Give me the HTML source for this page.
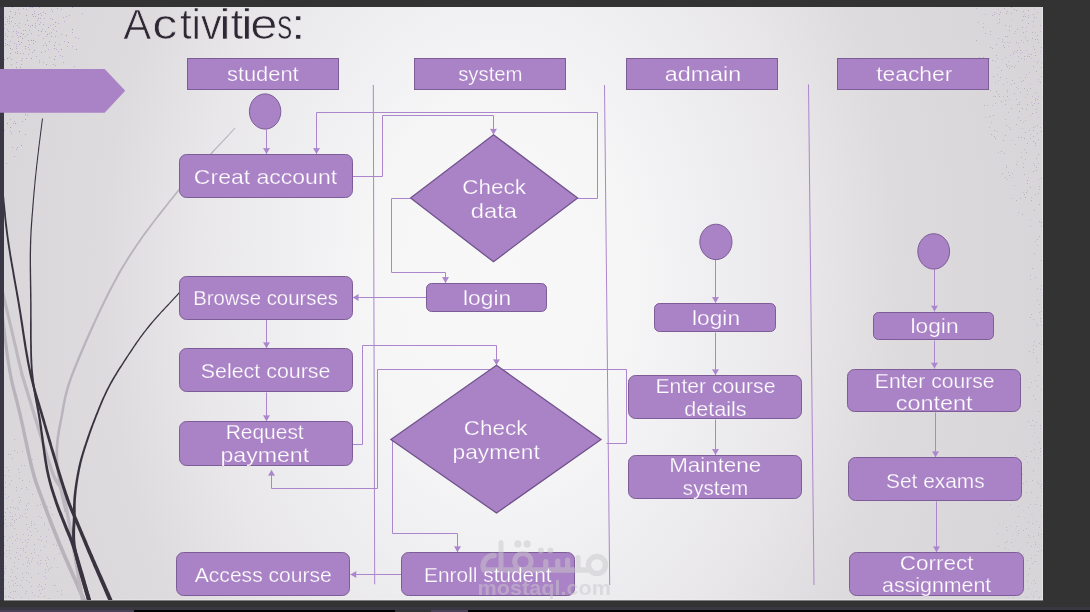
<!DOCTYPE html>
<html><head><meta charset="utf-8"><style>
html,body{margin:0;padding:0;background:#333333;}
body{width:1090px;height:612px;overflow:hidden;position:relative;font-family:"Liberation Sans",sans-serif;}
svg{position:absolute;left:0;top:0;}
</style></head><body>
<svg style="will-change:transform" width="1090" height="612" viewBox="0 0 1090 612" font-family="Liberation Sans, sans-serif">
<defs>
<radialGradient id="bg" cx="500" cy="280" r="560" gradientUnits="userSpaceOnUse" gradientTransform="translate(500 280) scale(1 1.4) translate(-500 -280)">
<stop offset="0" stop-color="#f8f8f9"/>
<stop offset="0.23" stop-color="#f6f6f7"/>
<stop offset="0.45" stop-color="#ecebee"/>
<stop offset="0.54" stop-color="#e9e7ea"/>
<stop offset="0.71" stop-color="#dedbdf"/>
<stop offset="0.89" stop-color="#dad7db"/>
<stop offset="1" stop-color="#d8d5d9"/>
</radialGradient>
<clipPath id="slide"><rect x="4" y="7" width="1039" height="593"/></clipPath>
</defs>
<rect x="0" y="0" width="1090" height="612" fill="#333333"/>
<rect x="0" y="7" width="4" height="593" fill="#3b3845"/>
<rect x="4" y="7" width="1039" height="593" fill="url(#bg)"/>
<path fill="#c0a9d6" d="M25 114h1v1h-1zM27 115h1v1h-1zM10 119h1v1h-1zM14 121h1v1h-1zM22 121h1v1h-1zM13 123h1v1h-1zM4 130h1v1h-1zM10 131h1v1h-1zM11 133h1v1h-1zM25 134h1v1h-1zM12 147h1v1h-1zM16 149h1v1h-1zM14 156h1v1h-1zM6 163h1v1h-1zM12 7h1v1h-1zM30 7h1v1h-1zM32 7h1v1h-1zM39 7h1v1h-1zM72 7h1v1h-1zM23 8h1v1h-1zM57 8h1v1h-1zM18 9h1v1h-1zM26 9h1v1h-1zM51 9h1v1h-1zM61 9h1v1h-1zM34 11h1v1h-1zM52 11h1v1h-1zM15 12h1v1h-1zM43 12h1v1h-1zM19 13h1v1h-1zM34 13h1v1h-1zM40 13h1v1h-1zM45 13h1v1h-1zM82 13h1v1h-1zM15 14h1v1h-1zM41 15h1v1h-1zM69 15h1v1h-1zM33 16h1v1h-1zM35 16h1v1h-1zM66 16h1v1h-1zM5 17h1v1h-1zM63 17h1v1h-1zM9 18h1v1h-1zM40 18h1v1h-1zM44 18h1v1h-1zM50 18h1v1h-1zM7 19h1v1h-1zM52 19h1v1h-1zM37 20h1v1h-1zM7 21h1v1h-1zM9 21h1v1h-1zM11 21h1v1h-1zM64 21h1v1h-1zM40 22h1v1h-1zM9 23h1v1h-1zM15 23h1v1h-1zM19 23h1v1h-1zM35 23h1v1h-1zM58 23h1v1h-1zM5 24h1v1h-1zM25 24h1v1h-1zM39 24h1v1h-1zM43 24h1v1h-1zM53 24h1v1h-1zM17 25h1v1h-1zM28 25h1v1h-1zM35 25h1v1h-1zM50 25h1v1h-1zM13 26h1v1h-1zM30 26h1v1h-1zM55 26h1v1h-1zM19 27h1v1h-1zM35 27h1v1h-1zM4 28h1v1h-1zM7 29h1v1h-1zM42 29h1v1h-1zM53 29h1v1h-1zM23 30h1v1h-1zM25 30h1v1h-1zM29 30h1v1h-1zM8 31h1v1h-1zM13 31h1v1h-1zM16 31h1v1h-1zM45 31h1v1h-1zM56 31h1v1h-1zM18 32h1v1h-1zM51 32h1v1h-1zM72 32h1v1h-1zM5 33h1v1h-1zM16 33h1v1h-1zM31 33h1v1h-1zM49 33h1v1h-1zM27 34h1v1h-1zM61 34h1v1h-1zM5 35h1v1h-1zM17 35h1v1h-1zM38 35h1v1h-1zM7 36h1v1h-1zM12 36h1v1h-1zM25 36h1v1h-1zM46 36h1v1h-1zM51 36h1v1h-1zM55 36h1v1h-1zM18 37h1v1h-1zM75 37h1v1h-1zM43 38h1v1h-1zM78 38h1v1h-1zM5 39h1v1h-1zM10 41h1v1h-1zM35 41h1v1h-1zM64 41h1v1h-1zM55 42h1v1h-1zM5 43h1v1h-1zM14 43h1v1h-1zM33 43h1v1h-1zM45 43h1v1h-1zM16 44h1v1h-1zM19 44h1v1h-1zM29 44h1v1h-1zM59 44h1v1h-1zM5 45h1v1h-1zM9 45h1v1h-1zM43 45h1v1h-1zM16 46h1v1h-1zM67 46h1v1h-1zM72 46h1v1h-1zM28 47h1v1h-1zM16 48h1v1h-1zM25 48h1v1h-1zM12 49h1v1h-1zM29 49h1v1h-1zM48 49h1v1h-1zM56 49h1v1h-1zM17 51h1v1h-1zM45 51h1v1h-1zM58 51h1v1h-1zM15 52h1v1h-1zM32 52h1v1h-1zM20 53h1v1h-1zM23 53h1v1h-1zM28 54h1v1h-1zM60 55h1v1h-1zM36 56h1v1h-1zM55 56h1v1h-1zM62 56h1v1h-1zM9 57h1v1h-1zM49 57h1v1h-1zM22 58h1v1h-1zM26 58h1v1h-1zM11 59h1v1h-1zM21 60h1v1h-1zM39 60h1v1h-1zM16 62h1v1h-1zM39 62h1v1h-1zM43 62h1v1h-1zM63 62h1v1h-1zM11 64h1v1h-1zM21 64h1v1h-1zM53 64h1v1h-1zM55 65h1v1h-1zM74 66h1v1h-1z"/>
<path fill="#a8a4ac" d="M25 119h1v1h-1zM7 123h1v1h-1zM15 123h1v1h-1zM10 127h1v1h-1zM19 131h1v1h-1zM21 145h1v1h-1zM17 147h1v1h-1zM10 11h1v1h-1zM32 14h1v1h-1zM38 14h1v1h-1zM26 15h1v1h-1zM9 16h1v1h-1zM12 17h1v1h-1zM38 18h1v1h-1zM27 20h1v1h-1zM55 22h1v1h-1zM32 25h1v1h-1zM48 27h1v1h-1zM72 29h1v1h-1zM38 30h1v1h-1zM41 31h1v1h-1zM21 33h1v1h-1zM23 34h1v1h-1zM47 34h1v1h-1zM66 35h1v1h-1zM20 36h1v1h-1zM22 38h1v1h-1zM28 40h1v1h-1zM31 40h1v1h-1zM33 40h1v1h-1zM18 41h1v1h-1zM49 41h1v1h-1zM21 42h1v1h-1zM68 42h1v1h-1zM7 44h1v1h-1zM46 45h1v1h-1zM54 45h1v1h-1zM25 46h1v1h-1zM10 48h1v1h-1zM54 48h1v1h-1zM61 49h1v1h-1zM76 49h1v1h-1zM34 50h1v1h-1zM41 52h1v1h-1zM10 53h1v1h-1zM17 53h1v1h-1zM7 58h1v1h-1zM31 58h1v1h-1zM4 59h1v1h-1zM54 59h1v1h-1zM46 64h1v1h-1zM16 67h1v1h-1zM20 67h1v1h-1z"/>
<path fill="#b6b2ba" d="M1011 7h1v1h-1zM1004 8h1v1h-1zM1014 9h1v1h-1zM1016 10h1v1h-1zM1028 10h1v1h-1zM1007 11h1v1h-1zM1023 11h1v1h-1zM1000 12h1v1h-1zM1006 13h1v1h-1zM1011 13h1v1h-1zM999 14h1v1h-1zM1033 14h1v1h-1zM992 15h1v1h-1zM1023 16h1v1h-1zM1025 16h1v1h-1zM1028 17h1v1h-1zM1034 17h1v1h-1zM999 19h1v1h-1zM1022 20h1v1h-1zM1033 21h1v1h-1zM978 22h1v1h-1zM999 22h1v1h-1zM1028 23h1v1h-1zM1005 25h1v1h-1zM1009 26h1v1h-1zM983 27h1v1h-1zM1022 27h1v1h-1zM1017 29h1v1h-1zM1009 30h1v1h-1zM990 31h1v1h-1zM1023 32h1v1h-1zM1032 32h1v1h-1zM985 33h1v1h-1zM1014 33h1v1h-1zM1037 35h1v1h-1zM1005 36h1v1h-1zM1007 36h1v1h-1zM998 38h1v1h-1zM1032 38h1v1h-1zM1035 39h1v1h-1zM1037 39h1v1h-1zM976 40h1v1h-1zM1027 40h1v1h-1zM1002 41h1v1h-1zM1016 42h1v1h-1zM1038 42h1v1h-1zM996 44h1v1h-1zM1003 45h1v1h-1zM1033 46h1v1h-1zM990 47h1v1h-1zM1004 47h1v1h-1zM1041 47h1v1h-1zM992 48h1v1h-1zM1034 49h1v1h-1zM1017 50h1v1h-1zM1020 50h1v1h-1zM1014 51h1v1h-1zM1013 53h1v1h-1zM1031 54h1v1h-1zM996 55h1v1h-1zM1035 55h1v1h-1zM1018 56h1v1h-1zM1024 56h1v1h-1zM1027 56h1v1h-1zM1029 56h1v1h-1zM979 57h1v1h-1zM983 57h1v1h-1zM989 58h1v1h-1zM992 60h1v1h-1zM1018 61h1v1h-1zM1037 62h1v1h-1zM1006 64h1v1h-1zM1007 66h1v1h-1zM1011 66h1v1h-1zM1033 66h1v1h-1zM1014 67h1v1h-1zM1041 67h1v1h-1zM1001 70h1v1h-1zM1036 71h1v1h-1zM1042 73h1v1h-1zM993 76h1v1h-1zM1041 76h1v1h-1zM1000 77h1v1h-1zM1025 77h1v1h-1zM1012 80h1v1h-1zM1023 80h1v1h-1zM1021 81h1v1h-1zM1040 82h1v1h-1zM1014 83h1v1h-1zM1024 88h1v1h-1zM1030 88h1v1h-1zM980 89h1v1h-1zM990 90h1v1h-1zM1007 90h1v1h-1zM1027 90h1v1h-1zM996 91h1v1h-1zM1020 92h1v1h-1zM1014 93h1v1h-1zM998 94h1v1h-1zM995 96h1v1h-1zM999 96h1v1h-1zM1007 96h1v1h-1zM1042 96h1v1h-1zM1035 98h1v1h-1zM1037 99h1v1h-1zM1005 100h1v1h-1zM1035 100h1v1h-1zM1001 101h1v1h-1zM1019 102h1v1h-1zM1038 103h1v1h-1zM1005 104h1v1h-1zM1017 104h1v1h-1zM1019 104h1v1h-1zM1027 104h1v1h-1zM984 105h1v1h-1zM1032 105h1v1h-1zM1011 108h1v1h-1zM1022 108h1v1h-1zM1026 109h1v1h-1zM1036 109h1v1h-1zM1019 111h1v1h-1zM1032 113h1v1h-1zM993 115h1v1h-1zM989 116h1v1h-1zM1018 117h1v1h-1zM1020 120h1v1h-1zM1016 124h1v1h-1zM1006 125h1v1h-1zM1033 127h1v1h-1zM1010 129h1v1h-1zM994 130h1v1h-1zM1029 130h1v1h-1zM1033 130h1v1h-1zM1041 131h1v1h-1zM1025 132h1v1h-1zM1037 133h1v1h-1zM991 134h1v1h-1zM1005 135h1v1h-1zM994 136h1v1h-1zM1033 136h1v1h-1zM1018 137h1v1h-1zM1021 137h1v1h-1zM995 138h1v1h-1zM1024 138h1v1h-1zM1038 139h1v1h-1zM1003 140h1v1h-1zM1033 141h1v1h-1zM1027 143h1v1h-1zM1035 143h1v1h-1zM1035 145h1v1h-1zM1001 151h1v1h-1zM1026 152h1v1h-1zM1004 153h1v1h-1zM1038 154h1v1h-1zM1036 158h1v1h-1zM1016 164h1v1h-1zM1034 165h1v1h-1zM1006 167h1v1h-1zM1023 167h1v1h-1zM1036 167h1v1h-1zM1036 170h1v1h-1zM1033 171h1v1h-1zM1008 172h1v1h-1zM1002 173h1v1h-1zM1024 174h1v1h-1zM1009 175h1v1h-1zM1005 177h1v1h-1zM1027 180h1v1h-1zM1027 183h1v1h-1zM1030 187h1v1h-1zM1026 192h1v1h-1zM1024 194h1v1h-1zM1035 194h1v1h-1zM1025 197h1v1h-1zM1020 198h1v1h-1zM1016 200h1v1h-1zM1031 200h1v1h-1zM1039 204h1v1h-1zM1034 210h1v1h-1zM1022 214h1v1h-1zM1039 221h1v1h-1zM1041 222h1v1h-1z"/>
<path fill="#c8b6d8" d="M976 8h1v1h-1zM1042 8h1v1h-1zM998 9h1v1h-1zM1034 9h1v1h-1zM994 12h1v1h-1zM1037 12h1v1h-1zM996 13h1v1h-1zM985 14h1v1h-1zM994 14h1v1h-1zM1024 14h1v1h-1zM1028 15h1v1h-1zM1036 17h1v1h-1zM1011 19h1v1h-1zM983 23h1v1h-1zM997 23h1v1h-1zM1011 25h1v1h-1zM1040 25h1v1h-1zM1033 26h1v1h-1zM1026 27h1v1h-1zM1015 31h1v1h-1zM1026 31h1v1h-1zM1040 31h1v1h-1zM1035 32h1v1h-1zM990 34h1v1h-1zM1025 36h1v1h-1zM1042 36h1v1h-1zM1025 38h1v1h-1zM1002 39h1v1h-1zM1021 40h1v1h-1zM1004 42h1v1h-1zM1007 42h1v1h-1zM1009 42h1v1h-1zM1023 42h1v1h-1zM1018 43h1v1h-1zM1008 46h1v1h-1zM1019 47h1v1h-1zM1026 50h1v1h-1zM1040 51h1v1h-1zM1016 52h1v1h-1zM1022 52h1v1h-1zM1035 52h1v1h-1zM1020 53h1v1h-1zM1028 54h1v1h-1zM1042 54h1v1h-1zM1010 55h1v1h-1zM1005 57h1v1h-1zM997 58h1v1h-1zM1021 58h1v1h-1zM1031 58h1v1h-1zM1002 59h1v1h-1zM1024 59h1v1h-1zM1038 60h1v1h-1zM995 61h1v1h-1zM1008 61h1v1h-1zM1034 61h1v1h-1zM1042 61h1v1h-1zM1041 63h1v1h-1zM1009 65h1v1h-1zM1015 65h1v1h-1zM998 67h1v1h-1zM1009 68h1v1h-1zM1029 72h1v1h-1zM997 74h1v1h-1zM1026 74h1v1h-1zM1019 77h1v1h-1zM1006 78h1v1h-1zM1038 79h1v1h-1zM998 80h1v1h-1zM1038 81h1v1h-1zM995 82h1v1h-1zM1007 82h1v1h-1zM987 83h1v1h-1zM1003 84h1v1h-1zM1011 84h1v1h-1zM1030 84h1v1h-1zM1016 87h1v1h-1zM1018 88h1v1h-1zM988 89h1v1h-1zM1007 92h1v1h-1zM1035 92h1v1h-1zM1037 93h1v1h-1zM1027 94h1v1h-1zM993 96h1v1h-1zM1003 96h1v1h-1zM1032 96h1v1h-1zM1038 96h1v1h-1zM1025 97h1v1h-1zM1009 99h1v1h-1zM1016 99h1v1h-1zM1031 102h1v1h-1zM995 103h1v1h-1zM1034 103h1v1h-1zM987 105h1v1h-1zM992 105h1v1h-1zM1008 112h1v1h-1zM1036 112h1v1h-1zM1030 115h1v1h-1zM985 117h1v1h-1zM1038 117h1v1h-1zM1005 119h1v1h-1zM1025 120h1v1h-1zM991 122h1v1h-1zM1023 122h1v1h-1zM1037 125h1v1h-1zM1035 126h1v1h-1zM989 127h1v1h-1zM1009 127h1v1h-1zM1040 127h1v1h-1zM1022 128h1v1h-1zM997 131h1v1h-1zM1030 134h1v1h-1zM1030 138h1v1h-1zM1012 140h1v1h-1zM1015 144h1v1h-1zM1024 149h1v1h-1zM998 152h1v1h-1zM1021 152h1v1h-1zM1021 157h1v1h-1zM1025 159h1v1h-1zM1017 161h1v1h-1zM1023 163h1v1h-1zM1033 163h1v1h-1zM1038 163h1v1h-1zM1006 165h1v1h-1zM1012 173h1v1h-1zM1012 177h1v1h-1zM1028 177h1v1h-1zM1041 178h1v1h-1zM1007 179h1v1h-1zM1038 179h1v1h-1zM1014 185h1v1h-1zM1039 186h1v1h-1zM1027 190h1v1h-1zM1023 192h1v1h-1zM1031 197h1v1h-1zM1012 198h1v1h-1zM1018 212h1v1h-1zM1030 219h1v1h-1zM1030 226h1v1h-1zM1041 226h1v1h-1zM1035 241h1v1h-1zM1037 245h1v1h-1zM1030 279h1v1h-1zM1037 288h1v1h-1zM1040 289h1v1h-1zM1042 295h1v1h-1zM1037 300h1v1h-1zM1039 304h1v1h-1zM1039 312h1v1h-1zM1033 319h1v1h-1zM1040 321h1v1h-1zM1036 323h1v1h-1zM1041 325h1v1h-1zM1034 341h1v1h-1zM1041 341h1v1h-1zM1041 344h1v1h-1zM1033 345h1v1h-1zM1033 352h1v1h-1zM1042 378h1v1h-1zM1041 389h1v1h-1zM1042 400h1v1h-1zM1036 422h1v1h-1zM1040 428h1v1h-1z"/>
<path fill="#bbb7bf" d="M1039 189h1v1h-1zM1038 193h1v1h-1zM1039 236h1v1h-1zM1037 239h1v1h-1zM1034 253h1v1h-1zM1041 260h1v1h-1zM1032 268h1v1h-1zM1030 275h1v1h-1zM1035 277h1v1h-1zM1041 285h1v1h-1zM1041 311h1v1h-1zM1031 314h1v1h-1zM1030 317h1v1h-1zM1040 318h1v1h-1zM1037 325h1v1h-1zM1039 343h1v1h-1zM1036 346h1v1h-1zM1033 349h1v1h-1zM1029 351h1v1h-1zM1036 358h1v1h-1zM1037 362h1v1h-1zM1038 375h1v1h-1zM1035 380h1v1h-1zM1031 382h1v1h-1zM1037 386h1v1h-1zM1029 387h1v1h-1zM1033 395h1v1h-1zM1035 399h1v1h-1zM1038 411h1v1h-1zM1032 420h1v1h-1zM1040 425h1v1h-1zM1034 449h1v1h-1zM1034 457h1v1h-1zM1041 484h1v1h-1z"/>
<path fill="#bdb9c1" d="M1042 414h1v1h-1zM1028 421h1v1h-1zM1031 425h1v1h-1zM1034 425h1v1h-1zM1042 432h1v1h-1zM1039 442h1v1h-1zM1040 448h1v1h-1zM1031 451h1v1h-1zM1040 451h1v1h-1zM1015 455h1v1h-1zM1026 456h1v1h-1zM1038 458h1v1h-1zM1027 462h1v1h-1zM1012 471h1v1h-1zM1033 471h1v1h-1zM1022 474h1v1h-1zM1012 480h1v1h-1zM1032 480h1v1h-1zM1026 481h1v1h-1zM1037 481h1v1h-1zM1023 483h1v1h-1zM1038 483h1v1h-1zM1040 486h1v1h-1zM1019 487h1v1h-1zM1008 490h1v1h-1zM1026 492h1v1h-1zM1031 492h1v1h-1zM1011 493h1v1h-1zM1018 496h1v1h-1zM1037 497h1v1h-1zM1010 504h1v1h-1zM1030 504h1v1h-1zM1036 504h1v1h-1zM1040 505h1v1h-1zM1018 506h1v1h-1zM1028 507h1v1h-1zM1018 516h1v1h-1zM1042 516h1v1h-1zM1036 521h1v1h-1zM1028 522h1v1h-1zM1032 523h1v1h-1zM1016 526h1v1h-1zM1006 527h1v1h-1zM1039 527h1v1h-1zM1026 528h1v1h-1zM1007 530h1v1h-1zM1018 530h1v1h-1zM1023 530h1v1h-1zM997 533h1v1h-1zM1018 533h1v1h-1zM1038 533h1v1h-1zM1041 534h1v1h-1zM1028 535h1v1h-1zM1038 535h1v1h-1zM1033 536h1v1h-1zM1029 537h1v1h-1zM1007 541h1v1h-1zM1005 542h1v1h-1zM1011 542h1v1h-1zM1027 542h1v1h-1zM1035 542h1v1h-1zM1035 544h1v1h-1zM998 546h1v1h-1zM1031 546h1v1h-1zM1005 548h1v1h-1zM1018 550h1v1h-1zM1041 550h1v1h-1zM1038 551h1v1h-1zM1018 552h1v1h-1zM1023 554h1v1h-1zM1035 555h1v1h-1zM1031 558h1v1h-1zM1008 559h1v1h-1zM1012 559h1v1h-1zM1027 560h1v1h-1zM1020 561h1v1h-1zM1034 561h1v1h-1zM1032 563h1v1h-1zM1018 565h1v1h-1zM1021 565h1v1h-1zM1007 566h1v1h-1zM1021 568h1v1h-1zM1029 568h1v1h-1zM1014 570h1v1h-1zM1028 574h1v1h-1zM1006 577h1v1h-1zM1015 579h1v1h-1zM1034 580h1v1h-1zM1027 581h1v1h-1zM1014 583h1v1h-1zM1035 583h1v1h-1zM1000 586h1v1h-1zM1011 587h1v1h-1zM1007 588h1v1h-1zM1028 588h1v1h-1zM1036 591h1v1h-1zM1003 592h1v1h-1zM1000 594h1v1h-1zM1033 596h1v1h-1zM1027 597h1v1h-1zM1039 597h1v1h-1zM1033 599h1v1h-1zM1038 599h1v1h-1z"/>
<path fill="#d0c4da" d="M1034 429h1v1h-1zM1034 432h1v1h-1zM1032 435h1v1h-1zM1037 437h1v1h-1zM1034 444h1v1h-1zM1023 451h1v1h-1zM1040 455h1v1h-1zM1024 459h1v1h-1zM1041 462h1v1h-1zM1020 463h1v1h-1zM1038 463h1v1h-1zM1033 469h1v1h-1zM1033 474h1v1h-1zM1018 481h1v1h-1zM1040 481h1v1h-1zM1041 488h1v1h-1zM1041 491h1v1h-1zM1017 500h1v1h-1zM1034 504h1v1h-1zM1012 509h1v1h-1zM1023 510h1v1h-1zM1039 510h1v1h-1zM1031 514h1v1h-1zM1041 514h1v1h-1zM1032 517h1v1h-1zM1024 518h1v1h-1zM1015 522h1v1h-1zM1042 522h1v1h-1zM999 523h1v1h-1zM1003 523h1v1h-1zM1040 523h1v1h-1zM1034 524h1v1h-1zM1039 525h1v1h-1zM1010 526h1v1h-1zM1015 529h1v1h-1zM1016 532h1v1h-1zM1033 532h1v1h-1zM1013 533h1v1h-1zM1002 534h1v1h-1zM1017 535h1v1h-1zM1041 536h1v1h-1zM1012 539h1v1h-1zM1015 540h1v1h-1zM1021 541h1v1h-1zM1039 544h1v1h-1zM1041 545h1v1h-1zM1013 546h1v1h-1zM1037 546h1v1h-1zM1034 547h1v1h-1zM1039 547h1v1h-1zM1020 548h1v1h-1zM1008 549h1v1h-1zM1036 551h1v1h-1zM1012 552h1v1h-1zM1031 554h1v1h-1zM1009 556h1v1h-1zM1042 560h1v1h-1zM1036 561h1v1h-1zM1015 562h1v1h-1zM1042 562h1v1h-1zM1017 563h1v1h-1zM1038 564h1v1h-1zM1008 568h1v1h-1zM996 571h1v1h-1zM996 576h1v1h-1zM1023 578h1v1h-1zM1010 581h1v1h-1zM1008 583h1v1h-1zM1031 583h1v1h-1zM1005 585h1v1h-1zM1009 586h1v1h-1zM1019 588h1v1h-1zM1024 589h1v1h-1zM1041 589h1v1h-1zM1031 593h1v1h-1zM1034 593h1v1h-1zM1020 594h1v1h-1zM1025 596h1v1h-1zM1041 596h1v1h-1zM1008 597h1v1h-1zM1013 597h1v1h-1zM1030 599h1v1h-1z"/>
<path fill="#c4b2d4" d="M14 439h1v1h-1zM17 452h1v1h-1zM32 459h1v1h-1zM6 467h1v1h-1zM19 472h1v1h-1zM5 475h1v1h-1zM9 476h1v1h-1zM32 476h1v1h-1zM19 478h1v1h-1zM11 480h1v1h-1zM29 481h1v1h-1zM5 482h1v1h-1zM9 484h1v1h-1zM5 487h1v1h-1zM27 489h1v1h-1zM16 490h1v1h-1zM5 494h1v1h-1zM32 494h1v1h-1zM8 496h1v1h-1zM19 497h1v1h-1zM6 498h1v1h-1zM12 500h1v1h-1zM19 502h1v1h-1zM43 502h1v1h-1zM40 504h1v1h-1zM47 506h1v1h-1zM50 507h1v1h-1zM15 508h1v1h-1zM18 509h1v1h-1zM25 509h1v1h-1zM10 512h1v1h-1zM25 513h1v1h-1zM15 514h1v1h-1zM20 515h1v1h-1zM10 516h1v1h-1zM38 516h1v1h-1zM19 517h1v1h-1zM41 517h1v1h-1zM16 519h1v1h-1zM14 520h1v1h-1zM31 521h1v1h-1zM4 523h1v1h-1zM31 523h1v1h-1zM10 525h1v1h-1zM44 525h1v1h-1zM6 526h1v1h-1zM29 527h1v1h-1zM35 528h1v1h-1zM27 529h1v1h-1zM48 529h1v1h-1zM30 531h1v1h-1zM23 534h1v1h-1zM28 535h1v1h-1zM31 535h1v1h-1zM12 536h1v1h-1zM40 536h1v1h-1zM46 536h1v1h-1zM17 538h1v1h-1zM20 539h1v1h-1zM28 539h1v1h-1zM7 540h1v1h-1zM15 540h1v1h-1zM27 542h1v1h-1zM12 543h1v1h-1zM9 546h1v1h-1zM26 546h1v1h-1zM17 548h1v1h-1zM20 548h1v1h-1zM6 550h1v1h-1zM23 550h1v1h-1zM40 550h1v1h-1zM16 552h1v1h-1zM25 552h1v1h-1zM34 552h1v1h-1zM4 553h1v1h-1zM9 553h1v1h-1zM59 553h1v1h-1zM20 555h1v1h-1zM38 555h1v1h-1zM6 556h1v1h-1zM48 559h1v1h-1zM28 560h1v1h-1zM40 560h1v1h-1zM45 560h1v1h-1zM27 562h1v1h-1zM37 562h1v1h-1zM40 563h1v1h-1zM46 563h1v1h-1zM23 564h1v1h-1zM38 564h1v1h-1zM27 566h1v1h-1zM51 567h1v1h-1zM57 567h1v1h-1zM5 568h1v1h-1zM17 568h1v1h-1zM49 568h1v1h-1zM11 569h1v1h-1zM4 571h1v1h-1zM45 572h1v1h-1zM4 573h1v1h-1zM22 573h1v1h-1zM38 573h1v1h-1zM10 576h1v1h-1zM15 576h1v1h-1zM44 576h1v1h-1zM23 577h1v1h-1zM31 577h1v1h-1zM46 578h1v1h-1zM4 579h1v1h-1zM12 580h1v1h-1zM21 580h1v1h-1zM26 580h1v1h-1zM8 582h1v1h-1zM29 582h1v1h-1zM45 584h1v1h-1zM17 585h1v1h-1zM53 585h1v1h-1zM55 585h1v1h-1zM31 586h1v1h-1zM38 586h1v1h-1zM41 586h1v1h-1zM22 587h1v1h-1zM5 588h1v1h-1zM44 588h1v1h-1zM42 589h1v1h-1zM39 590h1v1h-1zM61 590h1v1h-1zM13 591h1v1h-1zM15 591h1v1h-1zM10 592h1v1h-1zM32 592h1v1h-1zM40 593h1v1h-1zM61 594h1v1h-1zM34 595h1v1h-1zM10 597h1v1h-1zM21 597h1v1h-1zM49 598h1v1h-1zM28 599h1v1h-1z"/>
<path fill="#bab6be" d="M14 450h1v1h-1zM22 451h1v1h-1zM8 454h1v1h-1zM10 454h1v1h-1zM27 454h1v1h-1zM12 458h1v1h-1zM29 463h1v1h-1zM21 465h1v1h-1zM24 465h1v1h-1zM18 469h1v1h-1zM8 470h1v1h-1zM22 480h1v1h-1zM16 487h1v1h-1zM26 487h1v1h-1zM21 488h1v1h-1zM20 500h1v1h-1zM28 503h1v1h-1zM26 505h1v1h-1zM37 505h1v1h-1zM10 507h1v1h-1zM13 507h1v1h-1zM17 507h1v1h-1zM7 508h1v1h-1zM27 509h1v1h-1zM5 512h1v1h-1zM52 514h1v1h-1zM4 516h1v1h-1zM12 516h1v1h-1zM22 516h1v1h-1zM26 517h1v1h-1zM5 519h1v1h-1zM12 519h1v1h-1zM14 522h1v1h-1zM10 523h1v1h-1zM44 523h1v1h-1zM26 524h1v1h-1zM34 524h1v1h-1zM12 525h1v1h-1zM31 525h1v1h-1zM14 528h1v1h-1zM37 531h1v1h-1zM54 531h1v1h-1zM16 534h1v1h-1zM4 536h1v1h-1zM9 537h1v1h-1zM38 539h1v1h-1zM25 540h1v1h-1zM41 540h1v1h-1zM46 541h1v1h-1zM22 542h1v1h-1zM34 544h1v1h-1zM53 544h1v1h-1zM4 545h1v1h-1zM56 545h1v1h-1zM44 546h1v1h-1zM23 548h1v1h-1zM34 549h1v1h-1zM9 550h1v1h-1zM31 553h1v1h-1zM15 557h1v1h-1zM26 557h1v1h-1zM47 557h1v1h-1zM10 558h1v1h-1zM28 558h1v1h-1zM32 558h1v1h-1zM54 558h1v1h-1zM18 559h1v1h-1zM31 561h1v1h-1zM14 562h1v1h-1zM29 563h1v1h-1zM5 566h1v1h-1zM14 566h1v1h-1zM47 566h1v1h-1zM45 569h1v1h-1zM48 570h1v1h-1zM12 572h1v1h-1zM26 572h1v1h-1zM28 573h1v1h-1zM16 578h1v1h-1zM15 583h1v1h-1zM39 584h1v1h-1zM13 585h1v1h-1zM20 585h1v1h-1zM9 586h1v1h-1zM26 591h1v1h-1zM57 591h1v1h-1zM25 593h1v1h-1zM5 596h1v1h-1zM8 596h1v1h-1zM38 596h1v1h-1zM44 596h1v1h-1zM13 598h1v1h-1z"/>
<rect x="4" y="599.5" width="1039" height="1" fill="#f1eff2" opacity="0.8"/>
<rect x="1042" y="7" width="1" height="593" fill="#eeecef" opacity="0.6"/>
<rect x="0" y="607" width="1090" height="3" fill="#383742"/>
<rect x="0" y="610" width="134" height="2" fill="#4a4058"/>
<rect x="134" y="610" width="956" height="2" fill="#000"/>
<rect x="395" y="610" width="36" height="2" fill="#333"/>
<rect x="431" y="610" width="37" height="2" fill="#4a4058"/>
<g clip-path="url(#slide)"><path d="M234.6,127.7 L231.8,130.8 L228.9,133.9 L226.0,136.9 L223.2,139.9 L220.3,143.0 L217.4,146.0 L214.6,149.0 L211.7,152.0 L208.9,155.0 L206.0,158.0 L203.1,161.1 L200.3,164.2 L197.4,167.3 L194.6,170.4 L191.7,173.6 L188.8,176.9 L186.0,180.2 L183.1,183.6 L180.3,187.0 L177.4,190.5 L174.5,194.1 L171.6,197.7 L168.7,201.3 L165.8,204.9 L162.9,208.6 L159.9,212.3 L157.0,216.1 L154.0,219.9 L151.1,223.8 L148.2,227.7 L145.2,231.6 L142.3,235.6 L139.5,239.6 L136.6,243.7 L133.8,247.9 L131.0,252.1 L128.2,256.3 L125.5,260.7 L122.8,265.1 L120.1,269.5 L117.5,274.1 L114.9,278.9 L112.2,283.9 L109.5,289.0 L106.8,294.2 L104.2,299.6 L101.5,305.0 L98.9,310.4 L96.3,315.9 L93.8,321.4 L91.3,326.8 L88.9,332.1 L86.5,337.4 L84.2,342.6 L82.1,347.6 L80.0,352.4 L78.0,357.1 L76.2,361.5 L74.5,365.7 L72.9,369.6 L71.5,373.2 L70.2,376.7 L69.0,380.0 L67.9,383.1 L67.0,386.0 L66.2,388.9 L65.4,391.5 L64.7,394.1 L64.2,396.5 L63.6,398.9 L63.2,401.2 L62.7,403.4 L62.3,405.5 L62.0,407.6 L61.6,409.6 L61.3,411.6 L60.9,413.7 L60.6,415.7 L60.2,417.7 L59.8,419.8 L59.3,421.8 L58.9,423.8 L58.6,425.7 L58.2,427.6 L57.9,429.4 L57.6,431.1 L57.3,432.8 L57.1,434.5 L56.8,436.1 L56.6,437.7 L56.4,439.3 L56.2,440.9 L56.1,442.5 L55.9,444.0 L55.8,445.6 L55.7,447.1 L55.6,448.7 L55.6,450.3 L55.5,451.9 L55.5,453.5 L55.5,455.1 L55.5,456.8 L55.5,458.4 L55.6,460.1 L55.7,461.7 L55.8,463.3 L55.9,465.0 L56.1,466.6 L56.3,468.2 L56.4,469.8 L56.6,471.4 L56.8,473.0 L57.0,474.6 L57.3,476.1 L57.5,477.7 L57.7,479.2 L58.0,480.7 L58.2,482.3 L58.4,483.7 L58.7,485.2 L58.9,486.7 L59.1,488.1 L59.4,489.5 L59.7,491.0 L60.0,492.3 L60.3,493.7 L60.6,495.1 L60.9,496.4 L61.2,497.8 L61.5,499.1 L61.8,500.4 L62.1,501.7 L62.4,503.1 L62.8,504.4 L63.1,505.7 L63.4,507.0 L63.7,508.3 L64.0,509.6 L64.3,511.0 L64.6,512.3 L67.4,511.7 L67.1,510.3 L66.7,509.0 L66.4,507.7 L66.1,506.3 L65.8,505.0 L65.5,503.7 L65.1,502.4 L64.8,501.1 L64.5,499.8 L64.2,498.5 L63.9,497.1 L63.5,495.8 L63.2,494.5 L62.9,493.1 L62.6,491.8 L62.4,490.4 L62.1,489.0 L61.8,487.6 L61.6,486.2 L61.3,484.8 L61.1,483.3 L60.9,481.8 L60.6,480.3 L60.4,478.8 L60.2,477.3 L59.9,475.7 L59.7,474.2 L59.5,472.6 L59.3,471.1 L59.1,469.5 L58.9,467.9 L58.7,466.3 L58.6,464.7 L58.5,463.1 L58.3,461.5 L58.2,459.9 L58.2,458.3 L58.1,456.7 L58.1,455.1 L58.1,453.5 L58.1,451.9 L58.2,450.4 L58.2,448.8 L58.3,447.3 L58.4,445.7 L58.5,444.2 L58.7,442.7 L58.8,441.2 L59.0,439.6 L59.2,438.1 L59.4,436.5 L59.6,434.9 L59.9,433.2 L60.1,431.5 L60.4,429.8 L60.7,428.0 L61.1,426.2 L61.4,424.3 L61.8,422.3 L62.2,420.2 L62.6,418.2 L63.0,416.1 L63.4,414.1 L63.7,412.1 L64.1,410.0 L64.4,408.0 L64.8,405.9 L65.1,403.8 L65.6,401.7 L66.0,399.4 L66.5,397.1 L67.1,394.7 L67.8,392.2 L68.5,389.5 L69.3,386.8 L70.2,383.8 L71.3,380.8 L72.4,377.5 L73.7,374.1 L75.1,370.4 L76.7,366.5 L78.4,362.4 L80.2,358.0 L82.1,353.3 L84.2,348.5 L86.3,343.5 L88.6,338.3 L90.9,333.0 L93.3,327.7 L95.7,322.3 L98.3,316.8 L100.8,311.3 L103.4,305.9 L106.0,300.5 L108.7,295.2 L111.3,289.9 L114.0,284.8 L116.6,279.9 L119.3,275.1 L121.9,270.5 L124.5,266.1 L127.1,261.7 L129.8,257.4 L132.6,253.1 L135.3,248.9 L138.1,244.8 L141.0,240.7 L143.8,236.6 L146.7,232.7 L149.6,228.7 L152.5,224.8 L155.4,221.0 L158.3,217.2 L161.3,213.4 L164.2,209.7 L167.1,206.0 L170.0,202.3 L172.9,198.7 L175.8,195.1 L178.6,191.5 L181.4,188.0 L184.3,184.5 L187.1,181.2 L190.0,177.9 L192.8,174.6 L195.6,171.4 L198.5,168.2 L201.3,165.1 L204.2,162.0 L207.0,159.0 L209.8,155.9 L212.7,152.9 L215.5,149.8 L218.4,146.8 L221.2,143.8 L224.0,140.7 L226.9,137.7 L229.7,134.6 L232.5,131.5 L235.4,128.3Z" fill="#b9b3bd"/>
<path d="M-0.5,305.2 L-0.1,308.5 L0.4,311.8 L0.8,315.1 L1.2,318.5 L1.6,321.9 L2.0,325.3 L2.4,328.8 L2.8,332.2 L3.2,335.6 L3.6,339.0 L4.1,342.4 L4.5,345.7 L4.9,349.0 L5.3,352.3 L5.8,355.4 L6.2,358.6 L6.6,361.6 L7.1,364.6 L7.6,367.5 L8.0,370.3 L8.5,373.0 L9.0,375.5 L9.5,377.9 L9.9,380.3 L10.4,382.6 L10.9,384.7 L11.4,386.9 L11.9,388.9 L12.5,391.0 L13.0,393.0 L13.5,395.0 L14.0,397.0 L14.5,399.0 L15.1,401.0 L15.6,403.1 L16.1,405.2 L16.7,407.4 L17.2,409.6 L17.8,411.9 L18.4,414.4 L18.9,416.9 L19.5,419.6 L20.1,422.4 L20.8,425.2 L21.4,428.1 L22.0,431.1 L22.6,434.1 L23.3,437.1 L23.9,440.2 L24.6,443.2 L25.2,446.3 L25.9,449.3 L26.5,452.2 L27.2,455.1 L27.8,457.9 L28.4,460.7 L29.0,463.3 L29.6,465.8 L30.2,468.2 L30.8,470.4 L31.3,472.5 L31.9,474.5 L32.4,476.2 L32.8,477.9 L33.3,479.5 L33.7,481.0 L34.2,482.4 L34.6,483.7 L35.1,485.0 L35.5,486.3 L35.9,487.5 L36.4,488.8 L36.9,490.1 L37.3,491.3 L37.8,492.7 L38.4,494.1 L38.9,495.6 L39.5,497.1 L40.1,498.8 L40.8,500.6 L41.5,502.5 L42.2,504.5 L42.9,506.5 L43.7,508.5 L44.5,510.6 L45.3,512.7 L46.1,514.9 L46.9,517.1 L47.8,519.3 L48.6,521.6 L49.5,523.9 L50.4,526.2 L51.4,528.6 L52.3,531.0 L53.3,533.4 L54.2,535.8 L55.2,538.3 L56.2,540.7 L57.2,543.2 L58.3,545.7 L59.3,548.3 L60.5,551.1 L61.7,553.9 L63.0,556.9 L64.3,560.0 L65.7,563.1 L67.0,566.2 L68.4,569.4 L69.8,572.6 L71.2,575.7 L72.6,578.8 L73.9,581.8 L75.2,584.8 L76.4,587.6 L77.6,590.3 L78.7,592.8 L79.7,595.1 L80.6,597.2 L81.5,599.1 L82.2,600.8 L82.8,602.2 L83.3,603.4 L83.6,604.3 L84.0,605.1 L84.2,605.7 L84.3,606.1 L84.4,606.3 L84.4,606.4 L84.4,605.9 L86.6,604.1 L87.7,604.6 L87.8,604.7 L87.8,604.6 L87.7,604.5 L87.5,604.3 L87.2,604.0 L84.8,603.9 L83.9,605.8 L84.0,606.3 L84.1,606.6 L87.9,605.4 L87.9,605.2 L87.9,605.5 L87.0,607.2 L84.7,607.2 L84.5,607.0 L84.5,607.0 L84.6,607.1 L84.7,607.2 L85.0,607.5 L86.2,608.1 L88.4,606.2 L88.3,605.5 L88.2,605.1 L88.1,604.7 L87.9,604.2 L87.7,603.6 L87.3,602.8 L86.9,601.8 L86.4,600.6 L85.8,599.2 L85.1,597.6 L84.3,595.6 L83.3,593.5 L82.3,591.2 L81.2,588.7 L80.0,586.0 L78.8,583.2 L77.5,580.3 L76.1,577.2 L74.7,574.2 L73.4,571.0 L72.0,567.9 L70.6,564.7 L69.2,561.5 L67.8,558.4 L66.5,555.4 L65.2,552.4 L64.0,549.6 L62.8,546.8 L61.7,544.3 L60.7,541.8 L59.7,539.3 L58.7,536.9 L57.7,534.4 L56.7,532.0 L55.8,529.6 L54.8,527.2 L53.9,524.9 L53.0,522.6 L52.1,520.3 L51.2,518.0 L50.4,515.8 L49.5,513.6 L48.7,511.4 L47.9,509.3 L47.1,507.2 L46.4,505.2 L45.6,503.2 L44.9,501.3 L44.2,499.4 L43.5,497.6 L42.9,495.9 L42.3,494.3 L41.7,492.8 L41.2,491.4 L40.7,490.1 L40.2,488.8 L39.8,487.5 L39.3,486.3 L38.9,485.1 L38.4,483.9 L38.0,482.6 L37.6,481.3 L37.2,479.9 L36.7,478.5 L36.2,476.9 L35.8,475.3 L35.3,473.5 L34.8,471.6 L34.2,469.6 L33.6,467.3 L33.1,465.0 L32.4,462.5 L31.8,459.9 L31.2,457.2 L30.6,454.4 L29.9,451.5 L29.3,448.5 L28.6,445.5 L28.0,442.5 L27.3,439.5 L26.6,436.4 L26.0,433.4 L25.3,430.4 L24.7,427.4 L24.1,424.5 L23.4,421.6 L22.8,418.9 L22.2,416.2 L21.6,413.6 L21.1,411.2 L20.5,408.8 L19.9,406.5 L19.4,404.4 L18.8,402.2 L18.3,400.2 L17.7,398.1 L17.2,396.1 L16.7,394.1 L16.1,392.2 L15.6,390.2 L15.1,388.1 L14.6,386.1 L14.1,384.0 L13.6,381.8 L13.1,379.6 L12.6,377.3 L12.1,374.9 L11.7,372.4 L11.2,369.7 L10.7,367.0 L10.2,364.1 L9.8,361.2 L9.3,358.1 L8.9,355.0 L8.4,351.8 L8.0,348.6 L7.6,345.3 L7.2,342.0 L6.7,338.6 L6.3,335.2 L5.9,331.8 L5.5,328.4 L5.0,325.0 L4.6,321.6 L4.2,318.2 L3.8,314.8 L3.4,311.4 L2.9,308.1 L2.5,304.8Z" fill="#b8b3bb"/>
<path d="M-0.5,285.3 L0.6,289.7 L1.6,294.2 L2.7,298.8 L3.8,303.5 L4.9,308.4 L6.1,313.2 L7.2,318.1 L8.3,322.9 L9.5,327.8 L10.6,332.5 L11.7,337.2 L12.7,341.8 L13.8,346.1 L14.8,350.4 L15.7,354.4 L16.6,358.2 L17.4,361.7 L18.2,364.9 L18.9,367.8 L19.5,370.4 L20.0,372.5 L20.3,374.0 L20.6,375.1 L20.7,375.8 L20.7,376.0 L23.0,374.6 L23.7,375.3 L23.6,375.1 L23.5,374.7 L23.4,374.3 L23.3,373.8 L23.2,373.5 L23.1,373.3 L20.6,374.7 L20.2,374.2 L20.3,374.6 L20.6,375.4 L21.0,376.6 L21.5,378.3 L22.2,380.5 L23.0,383.2 L24.0,386.5 L25.1,390.2 L26.4,394.3 L27.7,398.7 L29.2,403.5 L30.7,408.4 L32.2,413.6 L33.8,418.9 L35.5,424.2 L37.1,429.6 L38.8,435.0 L40.4,440.2 L42.0,445.4 L43.5,450.3 L45.0,455.1 L46.4,459.5 L47.7,463.6 L49.0,467.3 L50.0,470.5 L51.0,473.3 L51.9,475.7 L52.8,477.7 L53.6,479.4 L54.3,480.9 L55.0,482.1 L55.7,483.1 L56.3,483.9 L56.8,484.7 L57.3,485.4 L57.8,486.0 L58.3,486.7 L58.7,487.5 L59.2,488.4 L59.7,489.6 L60.3,491.0 L60.8,492.8 L61.5,494.9 L62.1,497.4 L62.9,500.4 L63.7,503.9 L64.5,507.9 L65.4,512.4 L66.4,517.3 L67.4,522.6 L68.4,528.1 L69.4,533.9 L70.5,539.8 L71.5,545.8 L72.5,551.8 L73.6,557.8 L74.6,563.7 L75.5,569.4 L76.5,575.0 L77.3,580.3 L78.2,585.2 L78.9,589.7 L79.6,593.8 L80.3,597.3 L80.8,600.3 L81.2,602.7 L81.6,604.7 L81.9,606.3 L82.1,607.6 L82.3,608.5 L82.5,609.1 L82.6,609.5 L83.1,610.5 L86.0,609.1 L86.0,608.7 L86.0,608.3 L85.9,607.9 L85.9,607.4 L85.8,606.9 L85.7,606.5 L85.7,606.1 L85.7,605.9 L85.7,605.9 L82.3,606.5 L82.3,606.5 L85.7,605.5 L85.6,605.1 L82.2,605.7 L82.2,606.1 L82.2,606.5 L82.3,606.9 L82.3,607.4 L82.4,607.9 L82.5,608.3 L82.5,608.7 L82.5,609.0 L82.6,609.1 L85.5,607.9 L85.9,608.6 L85.9,608.3 L85.7,607.8 L85.6,606.9 L85.3,605.7 L85.0,604.1 L84.7,602.1 L84.2,599.7 L83.7,596.7 L83.1,593.2 L82.4,589.1 L81.6,584.6 L80.7,579.7 L79.9,574.4 L78.9,568.9 L77.9,563.1 L76.9,557.2 L75.9,551.2 L74.8,545.2 L73.8,539.2 L72.7,533.3 L71.7,527.5 L70.7,522.0 L69.7,516.7 L68.7,511.8 L67.8,507.2 L66.9,503.2 L66.1,499.6 L65.4,496.6 L64.7,494.0 L64.0,491.8 L63.4,489.9 L62.8,488.4 L62.2,487.0 L61.7,485.9 L61.1,485.0 L60.5,484.1 L60.0,483.4 L59.5,482.7 L58.9,482.0 L58.4,481.2 L57.8,480.3 L57.2,479.3 L56.5,478.0 L55.8,476.4 L55.0,474.5 L54.1,472.2 L53.2,469.5 L52.1,466.2 L50.9,462.6 L49.5,458.5 L48.1,454.1 L46.6,449.4 L45.1,444.4 L43.5,439.3 L41.9,434.0 L40.2,428.7 L38.5,423.3 L36.9,417.9 L35.3,412.7 L33.7,407.5 L32.2,402.5 L30.8,397.8 L29.4,393.4 L28.2,389.3 L27.0,385.6 L26.1,382.3 L25.2,379.5 L24.5,377.3 L24.0,375.6 L23.6,374.4 L23.3,373.6 L23.1,373.0 L22.6,372.3 L20.0,373.8 L20.1,374.2 L20.2,374.6 L20.3,375.1 L20.5,375.6 L20.6,376.0 L20.8,376.4 L21.6,377.4 L23.9,375.8 L23.8,375.2 L23.6,374.5 L23.4,373.3 L23.0,371.7 L22.5,369.6 L21.9,367.1 L21.2,364.2 L20.5,361.0 L19.6,357.4 L18.7,353.7 L17.8,349.7 L16.8,345.4 L15.7,341.0 L14.7,336.5 L13.6,331.8 L12.5,327.1 L11.3,322.3 L10.2,317.4 L9.0,312.5 L7.9,307.7 L6.8,302.9 L5.6,298.1 L4.5,293.5 L3.5,289.0 L2.5,284.7Z" fill="#bdb8c0"/>
<path d="M1.1,185.1 L1.4,187.8 L1.7,190.5 L2.0,193.2 L2.2,195.9 L2.5,198.6 L2.7,201.3 L3.0,203.9 L3.3,206.6 L3.5,209.3 L3.8,212.0 L4.1,214.7 L4.3,217.4 L4.6,220.1 L4.9,222.9 L5.2,225.7 L5.6,228.5 L5.9,231.3 L6.3,234.2 L6.7,237.1 L7.1,240.1 L7.5,243.2 L8.0,246.2 L8.5,249.4 L9.0,252.5 L9.5,255.7 L10.0,258.9 L10.6,262.2 L11.1,265.4 L11.7,268.7 L12.3,272.0 L12.8,275.4 L13.4,278.7 L14.0,282.0 L14.6,285.4 L15.2,288.7 L15.8,292.0 L16.3,295.3 L16.9,298.6 L17.5,301.9 L18.0,305.2 L18.5,308.4 L19.1,311.7 L19.6,315.1 L20.1,318.4 L20.6,321.8 L21.1,325.1 L21.6,328.5 L22.1,331.9 L22.6,335.2 L23.1,338.6 L23.6,341.9 L24.1,345.3 L24.6,348.5 L25.2,351.8 L25.7,355.0 L26.3,358.2 L26.8,361.3 L27.4,364.3 L28.0,367.3 L28.6,370.2 L29.2,373.1 L29.8,375.9 L30.4,378.6 L31.1,381.2 L31.8,383.9 L32.4,386.4 L33.1,388.9 L33.8,391.4 L34.5,393.9 L35.2,396.3 L35.9,398.7 L36.6,401.1 L37.3,403.5 L38.0,405.8 L38.7,408.2 L39.4,410.6 L40.1,413.0 L40.8,415.4 L41.5,417.9 L42.2,420.4 L43.0,422.9 L43.7,425.5 L44.4,428.1 L45.2,430.7 L45.9,433.3 L46.7,436.0 L47.5,438.7 L48.2,441.3 L49.0,444.0 L49.8,446.6 L50.5,449.3 L51.3,451.8 L52.0,454.4 L52.8,456.9 L53.5,459.3 L54.2,461.7 L54.9,464.0 L55.5,466.2 L56.2,468.4 L56.8,470.4 L57.4,472.4 L58.0,474.3 L58.5,476.2 L59.1,477.9 L59.6,479.7 L60.1,481.4 L60.6,483.0 L61.1,484.6 L61.6,486.1 L62.0,487.6 L62.5,489.0 L63.0,490.4 L63.4,491.8 L63.8,493.1 L64.2,494.4 L64.7,495.7 L65.1,497.0 L65.5,498.2 L65.9,499.4 L66.3,500.5 L66.7,501.6 L67.0,502.6 L67.3,503.5 L67.6,504.2 L67.9,504.9 L68.1,505.6 L68.4,506.2 L68.6,506.8 L68.8,507.3 L69.1,507.9 L69.3,508.5 L69.6,509.1 L69.8,509.7 L70.1,510.4 L70.5,511.2 L70.8,512.0 L71.2,513.0 L71.7,514.1 L72.2,515.3 L72.8,516.6 L73.4,518.2 L74.1,519.8 L74.8,521.5 L75.6,523.4 L76.4,525.3 L77.2,527.3 L78.1,529.4 L79.0,531.6 L79.9,533.8 L80.8,536.1 L81.8,538.3 L82.7,540.6 L83.7,543.0 L84.6,545.3 L85.6,547.6 L86.6,549.9 L87.5,552.2 L88.5,554.4 L89.4,556.6 L90.3,558.7 L91.2,560.9 L92.2,563.1 L93.1,565.4 L94.1,567.7 L95.2,570.1 L96.2,572.5 L97.3,574.9 L98.3,577.3 L99.3,579.7 L100.3,582.0 L101.3,584.3 L102.3,586.6 L103.3,588.8 L104.2,590.9 L105.0,592.8 L105.8,594.7 L106.6,596.5 L107.3,598.1 L107.9,599.5 L108.4,600.8 L108.8,601.9 L109.2,602.8 L109.5,603.6 L109.7,604.2 L109.9,604.7 L110.0,605.1 L110.1,605.3 L110.1,605.4 L110.1,605.3 L110.1,604.8 L110.6,603.9 L111.5,603.3 L111.9,603.2 L111.8,603.2 L111.1,603.5 L110.1,604.3 L109.8,605.2 L109.8,605.8 L109.9,606.2 L110.0,606.5 L114.0,605.5 L114.0,605.3 L114.0,605.3 L114.0,605.7 L113.7,606.5 L112.9,607.2 L112.2,607.4 L112.2,607.4 L112.7,607.3 L113.7,606.7 L114.2,605.7 L114.3,605.1 L114.2,604.6 L114.1,604.2 L114.0,603.8 L113.9,603.3 L113.7,602.8 L113.4,602.1 L113.1,601.3 L112.7,600.3 L112.2,599.2 L111.7,597.9 L111.0,596.5 L110.3,594.8 L109.6,593.1 L108.7,591.2 L107.9,589.2 L106.9,587.2 L106.0,585.0 L105.0,582.8 L104.0,580.5 L102.9,578.1 L101.9,575.7 L100.8,573.4 L99.7,571.0 L98.7,568.6 L97.6,566.2 L96.6,563.9 L95.6,561.6 L94.6,559.4 L93.7,557.3 L92.8,555.1 L91.8,553.0 L90.9,550.7 L89.9,548.5 L88.9,546.2 L87.9,543.9 L87.0,541.6 L86.0,539.3 L85.0,537.0 L84.0,534.7 L83.1,532.5 L82.1,530.3 L81.2,528.1 L80.3,526.0 L79.5,524.0 L78.7,522.1 L77.9,520.2 L77.2,518.5 L76.5,516.9 L75.8,515.4 L75.3,514.0 L74.7,512.8 L74.3,511.7 L73.8,510.7 L73.5,509.8 L73.1,509.1 L72.8,508.4 L72.5,507.7 L72.3,507.2 L72.0,506.6 L71.8,506.1 L71.6,505.5 L71.4,505.0 L71.1,504.4 L70.9,503.8 L70.6,503.1 L70.3,502.4 L70.0,501.5 L69.7,500.6 L69.3,499.5 L68.9,498.3 L68.5,497.1 L68.1,495.9 L67.7,494.7 L67.2,493.5 L66.8,492.2 L66.4,490.8 L65.9,489.5 L65.4,488.1 L65.0,486.7 L64.5,485.2 L64.0,483.7 L63.5,482.1 L63.0,480.5 L62.5,478.8 L61.9,477.1 L61.4,475.3 L60.8,473.4 L60.2,471.5 L59.6,469.6 L59.0,467.5 L58.3,465.4 L57.7,463.2 L57.0,460.9 L56.2,458.5 L55.5,456.1 L54.8,453.6 L54.0,451.0 L53.2,448.5 L52.4,445.9 L51.7,443.2 L50.9,440.6 L50.1,437.9 L49.3,435.3 L48.5,432.6 L47.7,429.9 L47.0,427.3 L46.2,424.7 L45.5,422.2 L44.8,419.6 L44.0,417.2 L43.3,414.7 L42.6,412.3 L41.9,409.9 L41.1,407.5 L40.4,405.1 L39.7,402.7 L39.0,400.4 L38.2,398.0 L37.5,395.6 L36.8,393.2 L36.1,390.8 L35.4,388.3 L34.7,385.8 L34.1,383.3 L33.4,380.7 L32.7,378.0 L32.1,375.3 L31.5,372.6 L30.8,369.8 L30.2,366.9 L29.6,363.9 L29.0,360.9 L28.5,357.8 L27.9,354.6 L27.4,351.4 L26.8,348.2 L26.3,344.9 L25.8,341.6 L25.2,338.3 L24.7,334.9 L24.2,331.6 L23.7,328.2 L23.2,324.8 L22.7,321.4 L22.1,318.1 L21.6,314.7 L21.1,311.4 L20.5,308.1 L20.0,304.8 L19.4,301.6 L18.9,298.3 L18.3,295.0 L17.7,291.7 L17.1,288.3 L16.5,285.0 L15.9,281.7 L15.3,278.3 L14.7,275.0 L14.2,271.7 L13.6,268.4 L13.0,265.1 L12.4,261.9 L11.9,258.6 L11.3,255.4 L10.8,252.2 L10.3,249.1 L9.8,246.0 L9.4,242.9 L8.9,239.9 L8.5,236.9 L8.1,234.0 L7.7,231.1 L7.4,228.3 L7.1,225.4 L6.7,222.7 L6.4,219.9 L6.1,217.2 L5.9,214.5 L5.6,211.8 L5.3,209.1 L5.1,206.4 L4.8,203.8 L4.5,201.1 L4.3,198.4 L4.0,195.8 L3.7,193.1 L3.5,190.4 L3.2,187.6 L2.9,184.9Z" fill="#39323f"/>
<path d="M42.0,118.4 L41.7,120.8 L41.4,123.1 L41.1,125.5 L40.8,127.8 L40.5,130.2 L40.2,132.6 L39.9,135.0 L39.6,137.3 L39.3,139.7 L39.0,142.1 L38.7,144.5 L38.4,146.8 L38.1,149.1 L37.9,151.5 L37.6,153.8 L37.3,156.1 L37.0,158.3 L36.8,160.6 L36.5,162.8 L36.3,164.9 L36.0,167.1 L35.8,169.2 L35.6,171.3 L35.4,173.3 L35.2,175.4 L34.9,177.4 L34.7,179.4 L34.5,181.4 L34.4,183.3 L34.2,185.3 L34.0,187.2 L33.8,189.2 L33.6,191.1 L33.4,193.1 L33.3,195.0 L33.1,197.0 L32.9,199.0 L32.8,200.9 L32.6,202.9 L32.4,205.0 L32.3,207.0 L32.1,209.0 L32.0,210.9 L31.8,212.9 L31.6,214.8 L31.5,216.8 L31.3,218.7 L31.2,220.7 L31.0,222.6 L30.9,224.6 L30.8,226.6 L30.6,228.6 L30.5,230.6 L30.4,232.7 L30.3,234.8 L30.2,236.9 L30.1,239.1 L30.0,241.3 L29.9,243.6 L29.9,246.0 L29.8,248.4 L29.8,250.8 L29.7,253.2 L29.7,255.7 L29.7,258.2 L29.7,260.7 L29.7,263.3 L29.7,265.9 L29.7,268.5 L29.7,271.2 L29.8,273.9 L29.8,276.6 L29.8,279.4 L29.9,282.2 L29.9,285.1 L29.9,288.0 L30.0,290.9 L30.0,293.9 L30.0,296.9 L30.1,300.0 L30.1,303.2 L30.1,306.4 L30.1,309.8 L30.1,313.3 L30.1,316.8 L30.1,320.5 L30.0,324.1 L30.0,327.8 L30.0,331.5 L30.0,335.3 L30.0,339.0 L30.1,342.7 L30.1,346.4 L30.2,350.0 L30.2,353.6 L30.3,357.1 L30.4,360.5 L30.6,363.8 L30.8,367.0 L31.0,370.1 L31.2,373.0 L31.5,375.9 L31.8,378.7 L32.1,381.4 L32.4,384.0 L32.8,386.6 L33.2,389.1 L33.6,391.6 L34.0,394.0 L34.4,396.4 L34.9,398.8 L35.3,401.2 L35.8,403.5 L36.2,405.8 L36.6,408.2 L37.1,410.5 L37.5,412.9 L37.9,415.3 L38.3,417.7 L38.7,420.2 L39.1,422.7 L39.4,425.3 L39.8,427.9 L40.2,430.5 L40.5,433.1 L40.9,435.8 L41.2,438.5 L41.6,441.1 L41.9,443.8 L42.3,446.4 L42.6,449.0 L43.0,451.6 L43.3,454.2 L43.7,456.7 L44.0,459.1 L44.4,461.5 L44.8,463.8 L45.2,466.0 L45.5,468.2 L45.9,470.3 L46.3,472.2 L46.7,474.1 L47.1,475.9 L47.5,477.7 L47.9,479.3 L48.3,481.0 L48.7,482.5 L49.1,484.0 L49.5,485.5 L49.9,487.0 L50.3,488.4 L50.7,489.7 L51.1,491.1 L51.6,492.4 L52.0,493.8 L52.4,495.1 L52.8,496.4 L53.3,497.7 L53.7,499.1 L54.1,500.4 L54.6,501.8 L55.0,503.2 L55.5,504.5 L55.9,505.8 L56.4,507.1 L56.9,508.4 L57.4,509.7 L57.8,510.9 L58.3,512.2 L58.8,513.4 L59.3,514.7 L59.7,515.9 L60.2,517.1 L60.7,518.3 L61.2,519.5 L61.7,520.7 L62.1,521.9 L62.6,523.1 L63.1,524.3 L63.5,525.6 L64.0,526.8 L64.5,527.9 L64.9,529.0 L65.3,530.0 L65.7,531.1 L66.2,532.1 L66.6,533.0 L67.0,534.0 L67.4,535.0 L67.8,536.0 L68.3,537.0 L68.7,538.1 L69.1,539.2 L69.6,540.4 L70.1,541.7 L70.5,543.0 L71.0,544.5 L71.6,546.0 L72.1,547.7 L72.7,549.5 L73.3,551.5 L74.0,553.7 L74.7,556.1 L75.4,558.7 L76.2,561.4 L77.0,564.2 L77.8,567.1 L78.7,570.1 L79.5,573.1 L80.3,576.1 L81.2,579.1 L82.0,582.0 L82.8,584.9 L83.5,587.7 L84.3,590.3 L84.9,592.8 L85.6,595.1 L86.2,597.1 L86.7,599.0 L87.1,600.6 L87.5,601.9 L87.8,603.0 L88.1,603.9 L88.3,604.7 L88.5,605.3 L88.6,605.7 L88.8,606.1 L88.8,606.3 L89.0,606.6 L89.4,607.2 L92.7,606.4 L92.8,605.7 L92.8,605.6 L92.8,605.5 L92.8,605.6 L92.2,606.9 L89.1,606.6 L89.0,606.4 L89.0,606.4 L89.1,606.7 L92.9,605.3 L92.8,605.1 L92.7,604.8 L92.5,604.4 L89.4,604.1 L88.8,605.5 L88.8,605.7 L88.8,605.8 L88.8,605.8 L88.9,605.2 L92.2,604.4 L92.6,604.9 L92.6,604.9 L92.5,604.8 L92.4,604.5 L92.3,604.1 L92.1,603.5 L91.9,602.8 L91.6,601.9 L91.3,600.8 L90.9,599.4 L90.4,597.9 L89.9,596.1 L89.3,594.0 L88.6,591.7 L87.9,589.3 L87.2,586.6 L86.4,583.9 L85.6,581.0 L84.7,578.1 L83.9,575.1 L83.0,572.1 L82.1,569.1 L81.3,566.2 L80.4,563.2 L79.6,560.4 L78.8,557.7 L78.0,555.1 L77.2,552.7 L76.6,550.5 L75.9,548.5 L75.3,546.7 L74.7,545.0 L74.2,543.4 L73.7,541.9 L73.1,540.6 L72.7,539.3 L72.2,538.0 L71.7,536.9 L71.3,535.8 L70.8,534.7 L70.4,533.7 L70.0,532.7 L69.5,531.8 L69.1,530.8 L68.7,529.8 L68.3,528.8 L67.8,527.8 L67.4,526.7 L66.9,525.6 L66.5,524.4 L66.0,523.2 L65.5,522.0 L65.0,520.8 L64.5,519.6 L64.0,518.4 L63.5,517.2 L63.1,516.0 L62.6,514.7 L62.1,513.5 L61.6,512.3 L61.1,511.1 L60.6,509.9 L60.1,508.6 L59.7,507.4 L59.2,506.1 L58.7,504.8 L58.2,503.5 L57.8,502.2 L57.3,500.9 L56.9,499.6 L56.4,498.2 L56.0,496.8 L55.5,495.5 L55.1,494.2 L54.7,492.9 L54.2,491.6 L53.8,490.2 L53.4,488.9 L53.0,487.6 L52.5,486.2 L52.1,484.8 L51.7,483.3 L51.3,481.8 L50.9,480.3 L50.5,478.7 L50.1,477.1 L49.7,475.3 L49.3,473.6 L48.9,471.7 L48.5,469.7 L48.1,467.7 L47.7,465.6 L47.3,463.4 L46.9,461.1 L46.5,458.7 L46.2,456.3 L45.8,453.8 L45.4,451.3 L45.1,448.7 L44.7,446.1 L44.3,443.5 L43.9,440.8 L43.6,438.1 L43.2,435.5 L42.8,432.8 L42.4,430.2 L42.1,427.5 L41.7,424.9 L41.3,422.4 L40.9,419.8 L40.5,417.3 L40.1,414.9 L39.6,412.5 L39.2,410.1 L38.8,407.8 L38.3,405.4 L37.8,403.1 L37.4,400.8 L36.9,398.4 L36.5,396.1 L36.0,393.7 L35.6,391.3 L35.2,388.8 L34.8,386.3 L34.4,383.8 L34.0,381.2 L33.7,378.5 L33.4,375.7 L33.1,372.9 L32.8,369.9 L32.6,366.9 L32.4,363.7 L32.3,360.4 L32.1,357.0 L32.0,353.5 L31.9,349.9 L31.9,346.3 L31.8,342.7 L31.7,339.0 L31.7,335.2 L31.7,331.5 L31.7,327.8 L31.7,324.1 L31.7,320.5 L31.6,316.8 L31.6,313.3 L31.6,309.8 L31.6,306.4 L31.6,303.2 L31.5,300.0 L31.5,296.9 L31.5,293.9 L31.4,290.9 L31.4,288.0 L31.3,285.1 L31.3,282.2 L31.2,279.4 L31.2,276.6 L31.1,273.9 L31.1,271.2 L31.1,268.5 L31.0,265.9 L31.0,263.3 L31.0,260.7 L31.0,258.2 L31.0,255.7 L31.0,253.2 L31.1,250.8 L31.1,248.4 L31.1,246.0 L31.2,243.7 L31.3,241.4 L31.3,239.2 L31.4,237.0 L31.5,234.8 L31.6,232.7 L31.7,230.7 L31.8,228.7 L32.0,226.6 L32.1,224.7 L32.2,222.7 L32.4,220.7 L32.5,218.8 L32.6,216.9 L32.8,214.9 L32.9,213.0 L33.1,211.0 L33.3,209.0 L33.4,207.1 L33.6,205.0 L33.7,203.0 L33.9,201.0 L34.0,199.1 L34.2,197.1 L34.4,195.1 L34.5,193.2 L34.7,191.2 L34.9,189.3 L35.1,187.3 L35.2,185.4 L35.4,183.4 L35.6,181.5 L35.8,179.5 L36.0,177.5 L36.2,175.5 L36.4,173.5 L36.6,171.4 L36.9,169.3 L37.1,167.2 L37.3,165.1 L37.6,162.9 L37.8,160.7 L38.1,158.4 L38.3,156.2 L38.6,153.9 L38.9,151.6 L39.2,149.3 L39.4,146.9 L39.7,144.6 L40.0,142.2 L40.3,139.9 L40.6,137.5 L40.9,135.1 L41.2,132.7 L41.5,130.3 L41.8,128.0 L42.1,125.6 L42.4,123.2 L42.7,120.9 L43.0,118.6Z" fill="#39323f"/>
<path d="M179.6,291.6 L178.0,293.3 L176.5,294.9 L175.0,296.6 L173.4,298.3 L171.8,300.0 L170.2,301.7 L168.7,303.4 L167.1,305.0 L165.5,306.7 L163.9,308.4 L162.4,310.1 L160.8,311.8 L159.3,313.4 L157.8,315.1 L156.3,316.7 L154.9,318.3 L153.5,319.9 L152.1,321.5 L150.8,323.1 L149.5,324.6 L148.3,326.1 L147.1,327.5 L146.0,329.0 L144.9,330.4 L143.8,331.7 L142.8,333.1 L141.8,334.4 L140.8,335.7 L139.8,337.0 L138.9,338.4 L138.0,339.7 L137.0,341.0 L136.1,342.3 L135.2,343.6 L134.3,345.0 L133.3,346.4 L132.4,347.8 L131.4,349.2 L130.4,350.7 L129.4,352.2 L128.4,353.8 L127.3,355.4 L126.2,357.0 L125.2,358.6 L124.1,360.3 L123.0,362.0 L121.9,363.7 L120.7,365.4 L119.6,367.1 L118.5,368.8 L117.4,370.6 L116.3,372.3 L115.3,374.1 L114.2,375.8 L113.1,377.6 L112.1,379.3 L111.1,381.1 L110.1,382.8 L109.2,384.5 L108.3,386.2 L107.4,387.9 L106.5,389.6 L105.7,391.3 L104.9,393.0 L104.1,394.7 L103.3,396.4 L102.5,398.1 L101.8,399.8 L101.0,401.5 L100.3,403.2 L99.6,404.9 L98.9,406.6 L98.2,408.3 L97.5,409.9 L96.9,411.6 L96.2,413.2 L95.5,414.8 L94.9,416.5 L94.3,418.1 L93.6,419.7 L93.0,421.2 L92.4,422.8 L91.8,424.4 L91.2,426.0 L90.6,427.6 L90.0,429.2 L89.4,430.8 L88.8,432.4 L88.3,434.0 L87.7,435.5 L87.2,437.0 L86.7,438.6 L86.2,440.1 L85.7,441.5 L85.2,443.0 L84.7,444.4 L84.3,445.8 L83.8,447.1 L83.4,448.4 L83.0,449.7 L82.6,450.9 L82.2,452.1 L81.9,453.2 L81.6,454.3 L81.3,455.3 L81.0,456.3 L80.7,457.2 L80.4,458.2 L80.2,459.1 L79.9,460.0 L79.7,460.9 L79.4,461.9 L79.2,462.8 L79.0,463.7 L78.8,464.6 L78.6,465.6 L78.3,466.6 L78.1,467.6 L77.9,468.7 L77.7,469.8 L77.4,470.9 L77.2,472.1 L77.0,473.3 L76.7,474.5 L76.5,475.8 L76.3,477.1 L76.1,478.3 L75.8,479.6 L75.6,480.9 L75.4,482.3 L75.2,483.6 L75.0,484.9 L74.8,486.2 L74.6,487.5 L74.5,488.8 L74.3,490.0 L74.1,491.3 L74.0,492.5 L73.8,493.7 L73.7,494.9 L73.6,496.0 L73.5,497.1 L73.4,498.2 L73.3,499.2 L73.3,500.2 L73.2,501.1 L73.2,502.1 L73.1,503.1 L73.1,504.0 L73.0,505.0 L73.0,505.9 L73.0,506.9 L73.0,507.9 L73.0,508.9 L73.0,510.0 L72.9,511.1 L72.9,512.2 L72.9,513.4 L72.9,514.7 L72.9,516.0 L72.9,517.3 L72.8,518.7 L72.8,520.1 L72.7,521.5 L72.6,522.9 L72.5,524.4 L72.4,525.9 L72.3,527.4 L72.2,529.0 L72.1,530.6 L72.1,532.2 L72.1,533.9 L72.1,535.7 L72.1,537.5 L72.2,539.3 L72.3,541.2 L72.4,543.1 L72.6,545.1 L72.9,547.2 L73.2,549.3 L73.6,551.5 L74.1,553.9 L74.7,556.5 L75.3,559.2 L76.1,562.0 L76.8,564.8 L77.6,567.8 L78.4,570.7 L79.3,573.7 L80.1,576.7 L81.0,579.6 L81.8,582.5 L82.6,585.3 L83.4,588.0 L84.2,590.5 L84.9,592.9 L85.6,595.2 L86.2,597.2 L86.7,599.0 L87.1,600.5 L87.5,601.9 L87.8,603.0 L88.1,603.9 L88.3,604.6 L88.5,605.2 L88.6,605.7 L88.7,606.1 L88.8,606.4 L88.9,606.6 L89.4,607.3 L92.6,606.6 L92.8,605.9 L92.8,605.7 L92.8,605.6 L92.8,605.8 L92.0,607.1 L89.2,606.7 L89.0,606.4 L89.0,606.4 L89.1,606.7 L92.9,605.3 L92.8,605.1 L92.7,604.8 L92.4,604.4 L89.6,604.0 L88.8,605.3 L88.8,605.6 L88.8,605.7 L88.8,605.6 L89.0,605.0 L92.1,604.3 L92.5,604.9 L92.5,604.9 L92.5,604.8 L92.4,604.5 L92.3,604.1 L92.1,603.5 L91.9,602.8 L91.6,601.9 L91.3,600.8 L90.9,599.5 L90.4,597.9 L89.9,596.1 L89.2,594.1 L88.5,591.8 L87.8,589.4 L87.0,586.9 L86.1,584.2 L85.3,581.4 L84.4,578.6 L83.5,575.7 L82.6,572.7 L81.7,569.8 L80.9,566.8 L80.1,563.9 L79.3,561.1 L78.6,558.4 L77.9,555.7 L77.3,553.2 L76.8,550.9 L76.4,548.7 L76.0,546.7 L75.7,544.7 L75.5,542.8 L75.3,540.9 L75.2,539.1 L75.1,537.3 L75.1,535.6 L75.1,533.9 L75.1,532.3 L75.1,530.7 L75.2,529.1 L75.2,527.5 L75.3,526.0 L75.4,524.5 L75.5,523.1 L75.5,521.6 L75.6,520.2 L75.7,518.8 L75.7,517.4 L75.7,516.0 L75.7,514.7 L75.7,513.4 L75.7,512.2 L75.7,511.1 L75.7,510.0 L75.7,509.0 L75.7,507.9 L75.7,506.9 L75.7,506.0 L75.7,505.0 L75.7,504.1 L75.8,503.2 L75.8,502.2 L75.8,501.3 L75.9,500.3 L75.9,499.4 L76.0,498.4 L76.1,497.3 L76.2,496.2 L76.3,495.1 L76.4,494.0 L76.5,492.8 L76.6,491.6 L76.8,490.3 L76.9,489.1 L77.1,487.8 L77.3,486.5 L77.4,485.2 L77.6,483.9 L77.8,482.6 L78.0,481.3 L78.2,480.0 L78.4,478.7 L78.6,477.5 L78.8,476.2 L79.1,475.0 L79.3,473.7 L79.5,472.5 L79.7,471.4 L79.9,470.2 L80.1,469.1 L80.4,468.1 L80.6,467.1 L80.8,466.1 L81.0,465.1 L81.2,464.2 L81.4,463.3 L81.6,462.4 L81.8,461.5 L82.1,460.6 L82.3,459.7 L82.5,458.8 L82.8,457.8 L83.1,456.9 L83.3,455.9 L83.6,454.9 L83.9,453.8 L84.3,452.7 L84.6,451.5 L85.0,450.3 L85.4,449.0 L85.8,447.7 L86.2,446.4 L86.7,445.0 L87.1,443.6 L87.6,442.2 L88.1,440.7 L88.6,439.2 L89.1,437.7 L89.6,436.2 L90.1,434.6 L90.7,433.1 L91.2,431.5 L91.8,429.9 L92.4,428.3 L93.0,426.7 L93.5,425.1 L94.1,423.5 L94.8,421.9 L95.4,420.3 L96.0,418.7 L96.6,417.1 L97.2,415.5 L97.9,413.9 L98.5,412.2 L99.2,410.6 L99.8,408.9 L100.5,407.2 L101.2,405.6 L101.9,403.9 L102.6,402.2 L103.3,400.5 L104.1,398.8 L104.8,397.1 L105.6,395.4 L106.4,393.7 L107.2,392.0 L108.0,390.3 L108.8,388.7 L109.7,387.0 L110.6,385.3 L111.5,383.6 L112.5,381.9 L113.5,380.1 L114.5,378.4 L115.5,376.6 L116.6,374.9 L117.6,373.1 L118.7,371.4 L119.8,369.6 L120.9,367.9 L122.0,366.2 L123.1,364.4 L124.2,362.7 L125.3,361.1 L126.4,359.4 L127.4,357.8 L128.5,356.1 L129.5,354.5 L130.6,353.0 L131.6,351.5 L132.6,350.0 L133.5,348.5 L134.5,347.1 L135.4,345.8 L136.3,344.4 L137.2,343.1 L138.1,341.7 L139.1,340.4 L140.0,339.1 L140.9,337.8 L141.9,336.5 L142.8,335.2 L143.8,333.9 L144.8,332.5 L145.9,331.2 L147.0,329.8 L148.1,328.4 L149.3,326.9 L150.5,325.4 L151.8,323.9 L153.1,322.3 L154.4,320.8 L155.8,319.2 L157.3,317.5 L158.7,315.9 L160.2,314.3 L161.7,312.6 L163.3,310.9 L164.8,309.3 L166.4,307.6 L168.0,305.9 L169.5,304.2 L171.1,302.5 L172.7,300.8 L174.3,299.1 L175.8,297.4 L177.4,295.7 L178.9,294.1 L180.4,292.4Z" fill="#39323f"/></g>
<polygon points="0,69 104.7,69 125.2,90.8 104.7,112.7 0,112.7" fill="#aa82c6"/>
<path d="M373.3,85 L374.7,584.3" fill="none" stroke="#ab86cc" stroke-width="1"/>
<path d="M604.5,85 L609.7,585" fill="none" stroke="#ab86cc" stroke-width="1"/>
<path d="M808.5,84.4 L814,585" fill="none" stroke="#ab86cc" stroke-width="1"/>
<path d="M266.5,129.5 L266.5,154.5" fill="none" stroke="#ab86cc" stroke-width="1"/>
<polygon points="266.5,154.0 263.0,148.0 266.5,148.3 270.0,148.0" fill="#ab86cc"/>
<path d="M577.5,198.5 L597.5,198.5 L597.5,112.5 L316.5,112.5 L316.5,154.5" fill="none" stroke="#ab86cc" stroke-width="1"/>
<polygon points="316.5,154.0 313.0,148.0 316.5,148.3 320.0,148.0" fill="#ab86cc"/>
<path d="M352.5,176.5 L382.5,176.5 L382.5,115.5 L493.5,115.5 L493.5,134.5" fill="none" stroke="#ab86cc" stroke-width="1"/>
<polygon points="493.5,134.7 490.0,128.7 493.5,129.0 497.0,128.7" fill="#ab86cc"/>
<path d="M410.5,198.5 L391.5,198.5 L391.5,272.5 L445.5,272.5 L445.5,283.5" fill="none" stroke="#ab86cc" stroke-width="1"/>
<polygon points="445.5,283.0 442.0,277.0 445.5,277.3 449.0,277.0" fill="#ab86cc"/>
<path d="M426.5,297.5 L352.5,297.5" fill="none" stroke="#ab86cc" stroke-width="1"/>
<polygon points="352.7,297.5 358.7,294.0 358.4,297.5 358.7,301.0" fill="#ab86cc"/>
<path d="M266.5,319.5 L266.5,348.5" fill="none" stroke="#ab86cc" stroke-width="1"/>
<polygon points="266.5,348.2 263.0,342.2 266.5,342.5 270.0,342.2" fill="#ab86cc"/>
<path d="M266.5,392.5 L266.5,421.5" fill="none" stroke="#ab86cc" stroke-width="1"/>
<polygon points="266.5,421.3 263.0,415.3 266.5,415.6 270.0,415.3" fill="#ab86cc"/>
<path d="M352.5,444.5 L362.5,444.5 L362.5,345.5 L496.5,345.5 L496.5,365.5" fill="none" stroke="#ab86cc" stroke-width="1"/>
<polygon points="496.5,365.3 493.0,359.3 496.5,359.6 500.0,359.3" fill="#ab86cc"/>
<path d="M606.5,443.5 L626.5,443.5 L626.5,369.5 L377.5,369.5 L377.5,488.5 L271.5,488.5 L271.5,471.5" fill="none" stroke="#ab86cc" stroke-width="1"/>
<polygon points="271.5,469.7 268.0,475.7 271.5,475.4 275.0,475.7" fill="#ab86cc"/>
<path d="M390.5,439.5 L392.5,439.5 L392.5,533.5 L457.5,533.5 L457.5,552.5" fill="none" stroke="#ab86cc" stroke-width="1"/>
<polygon points="457.5,552.2 454.0,546.2 457.5,546.5 461.0,546.2" fill="#ab86cc"/>
<path d="M401.5,574.5 L350.5,574.5" fill="none" stroke="#ab86cc" stroke-width="1"/>
<polygon points="350.4,574.5 356.4,571.0 356.1,574.5 356.4,578.0" fill="#ab86cc"/>
<path d="M715.5,259.5 L715.5,302.5" fill="none" stroke="#ab86cc" stroke-width="1"/>
<polygon points="715.5,302.9 712.0,296.9 715.5,297.2 719.0,296.9" fill="#ab86cc"/>
<path d="M715.5,332.5 L715.5,375.5" fill="none" stroke="#ab86cc" stroke-width="1"/>
<polygon points="715.5,375.2 712.0,369.2 715.5,369.5 719.0,369.2" fill="#ab86cc"/>
<path d="M715.5,419.5 L715.5,455.5" fill="none" stroke="#ab86cc" stroke-width="1"/>
<polygon points="715.5,455.0 712.0,449.0 715.5,449.3 719.0,449.0" fill="#ab86cc"/>
<path d="M934.5,269.5 L934.5,311.5" fill="none" stroke="#ab86cc" stroke-width="1"/>
<polygon points="934.5,311.6 931.0,305.6 934.5,305.9 938.0,305.6" fill="#ab86cc"/>
<path d="M934.5,340.5 L934.5,368.5" fill="none" stroke="#ab86cc" stroke-width="1"/>
<polygon points="934.5,368.6 931.0,362.6 934.5,362.9 938.0,362.6" fill="#ab86cc"/>
<path d="M935.5,412.5 L935.5,457.5" fill="none" stroke="#ab86cc" stroke-width="1"/>
<polygon points="935.5,457.3 932.0,451.3 935.5,451.6 939.0,451.3" fill="#ab86cc"/>
<path d="M936.5,501.5 L936.5,552.5" fill="none" stroke="#ab86cc" stroke-width="1"/>
<polygon points="936.5,552.2 933.0,546.2 936.5,546.5 940.0,546.2" fill="#ab86cc"/>
<rect x="187.5" y="58.5" width="151.0" height="31.0" fill="#aa82c6" stroke="#7d5d97" stroke-width="1"/>
<rect x="414.5" y="58.5" width="151.0" height="31.0" fill="#aa82c6" stroke="#7d5d97" stroke-width="1"/>
<rect x="626.5" y="58.5" width="151.0" height="31.0" fill="#aa82c6" stroke="#7d5d97" stroke-width="1"/>
<rect x="837.5" y="58.5" width="151.0" height="31.0" fill="#aa82c6" stroke="#7d5d97" stroke-width="1"/>
<ellipse cx="265.1" cy="111.5" rx="15.7" ry="17.6" fill="#aa82c6" stroke="#7d5d97" stroke-width="1"/>
<ellipse cx="715.9" cy="241.9" rx="16.1" ry="17.7" fill="#aa82c6" stroke="#7d5d97" stroke-width="1"/>
<ellipse cx="933.7" cy="251.4" rx="15.9" ry="17.7" fill="#aa82c6" stroke="#7d5d97" stroke-width="1"/>
<rect x="179.5" y="154.5" width="173.0" height="43.0" rx="7" ry="7" fill="#aa82c6" stroke="#7d5d97" stroke-width="1"/>
<rect x="179.5" y="276.5" width="173.0" height="43.0" rx="7" ry="7" fill="#aa82c6" stroke="#7d5d97" stroke-width="1"/>
<rect x="426.5" y="283.5" width="120.0" height="28.0" rx="5" ry="5" fill="#aa82c6" stroke="#7d5d97" stroke-width="1"/>
<rect x="179.5" y="348.5" width="173.0" height="43.0" rx="7" ry="7" fill="#aa82c6" stroke="#7d5d97" stroke-width="1"/>
<rect x="179.5" y="421.5" width="173.0" height="44.0" rx="7" ry="7" fill="#aa82c6" stroke="#7d5d97" stroke-width="1"/>
<rect x="176.5" y="552.5" width="173.0" height="43.0" rx="7" ry="7" fill="#aa82c6" stroke="#7d5d97" stroke-width="1"/>
<rect x="401.5" y="552.5" width="173.0" height="43.0" rx="7" ry="7" fill="#aa82c6" stroke="#7d5d97" stroke-width="1"/>
<rect x="654.5" y="303.5" width="121.0" height="28.0" rx="5" ry="5" fill="#aa82c6" stroke="#7d5d97" stroke-width="1"/>
<rect x="628.5" y="375.5" width="173.0" height="43.0" rx="7" ry="7" fill="#aa82c6" stroke="#7d5d97" stroke-width="1"/>
<rect x="628.5" y="455.5" width="173.0" height="43.0" rx="7" ry="7" fill="#aa82c6" stroke="#7d5d97" stroke-width="1"/>
<rect x="873.5" y="312.5" width="120.0" height="27.0" rx="5" ry="5" fill="#aa82c6" stroke="#7d5d97" stroke-width="1"/>
<rect x="847.5" y="369.5" width="173.0" height="42.0" rx="7" ry="7" fill="#aa82c6" stroke="#7d5d97" stroke-width="1"/>
<rect x="848.5" y="457.5" width="173.0" height="43.0" rx="7" ry="7" fill="#aa82c6" stroke="#7d5d97" stroke-width="1"/>
<rect x="849.5" y="552.5" width="174.0" height="43.0" rx="7" ry="7" fill="#aa82c6" stroke="#7d5d97" stroke-width="1"/>
<polygon points="493.5,134.7 577.6,198 493.5,261.8 410.6,198" fill="#aa82c6" stroke="#71538c" stroke-width="1.3"/>
<polygon points="496.5,365.3 601,439.5 496.5,513 390.9,439.5" fill="#aa82c6" stroke="#71538c" stroke-width="1.3"/>
<g opacity="0.5"><g fill="none" stroke="#cac8cc" stroke-linecap="round" stroke-linejoin="round">
<path d="M501,542.5 L501,569.5" stroke-width="5"/>
<path d="M494,555.5 A10.5,10.5 0 0 0 484,570 L590,570" stroke-width="5.5"/>
<circle cx="522.9" cy="561.6" r="8.2" stroke-width="5"/>
<circle cx="597" cy="565" r="8.5" stroke-width="5.3"/>
<path d="M545.8,570 L545.8,561.5 M557.8,570 L557.8,561 M567.6,570 L567.6,560 M578,570 L578,557.5" stroke-width="5.2"/>
</g>
<g fill="#cac8cc">
<circle cx="517.9" cy="543.9" r="3.6"/>
<circle cx="527.2" cy="543.9" r="3.6"/>
<circle cx="540.9" cy="550.4" r="3"/>
<circle cx="550.3" cy="550.4" r="3"/>
</g>
<text x="477.60" y="594.50" font-size="21" font-weight="bold" textLength="133.27" lengthAdjust="spacingAndGlyphs" fill="#cac8cc">mostaql.com</text></g>
<text x="226.94" y="80.90" font-size="19.5" textLength="71.77" lengthAdjust="spacingAndGlyphs" fill="#fff" stroke="#aa82c6" stroke-width="0.25" opacity="0.999">student</text>
<text x="458.19" y="80.90" font-size="19.5" textLength="64.37" lengthAdjust="spacingAndGlyphs" fill="#fff" stroke="#aa82c6" stroke-width="0.25" opacity="0.999">system</text>
<text x="664.65" y="81.20" font-size="19.5" textLength="76.67" lengthAdjust="spacingAndGlyphs" fill="#fff" stroke="#aa82c6" stroke-width="0.25" opacity="0.999">admain</text>
<text x="876.16" y="81.20" font-size="19.5" textLength="76.20" lengthAdjust="spacingAndGlyphs" fill="#fff" stroke="#aa82c6" stroke-width="0.25" opacity="0.999">teacher</text>
<text x="193.85" y="184.00" font-size="20.2" textLength="143.28" lengthAdjust="spacingAndGlyphs" fill="#fff" stroke="#aa82c6" stroke-width="0.25" opacity="0.999">Creat account</text>
<text x="193.17" y="304.70" font-size="20.2" textLength="144.82" lengthAdjust="spacingAndGlyphs" fill="#fff" stroke="#aa82c6" stroke-width="0.25" opacity="0.999">Browse courses</text>
<text x="463.02" y="304.50" font-size="20.2" textLength="48.13" lengthAdjust="spacingAndGlyphs" fill="#fff" stroke="#aa82c6" stroke-width="0.25" opacity="0.999">login</text>
<text x="200.74" y="377.80" font-size="20.2" textLength="129.70" lengthAdjust="spacingAndGlyphs" fill="#fff" stroke="#aa82c6" stroke-width="0.25" opacity="0.999">Select course</text>
<text x="225.73" y="438.90" font-size="20.2" textLength="77.98" lengthAdjust="spacingAndGlyphs" fill="#fff" stroke="#aa82c6" stroke-width="0.25" opacity="0.999">Request</text>
<text x="220.50" y="462.40" font-size="20.2" textLength="88.63" lengthAdjust="spacingAndGlyphs" fill="#fff" stroke="#aa82c6" stroke-width="0.25" opacity="0.999">payment</text>
<text x="462.38" y="193.50" font-size="20.2" textLength="63.61" lengthAdjust="spacingAndGlyphs" fill="#fff" stroke="#aa82c6" stroke-width="0.25" opacity="0.999">Check</text>
<text x="470.85" y="217.60" font-size="20.2" textLength="46.18" lengthAdjust="spacingAndGlyphs" fill="#fff" stroke="#aa82c6" stroke-width="0.25" opacity="0.999">data</text>
<text x="463.88" y="435.30" font-size="20.2" textLength="63.61" lengthAdjust="spacingAndGlyphs" fill="#fff" stroke="#aa82c6" stroke-width="0.25" opacity="0.999">Check</text>
<text x="452.52" y="459.00" font-size="20.2" textLength="87.20" lengthAdjust="spacingAndGlyphs" fill="#fff" stroke="#aa82c6" stroke-width="0.25" opacity="0.999">payment</text>
<text x="194.79" y="581.60" font-size="20.2" textLength="137.01" lengthAdjust="spacingAndGlyphs" fill="#fff" stroke="#aa82c6" stroke-width="0.25" opacity="0.999">Access course</text>
<text x="424.13" y="582.00" font-size="20.2" textLength="127.47" lengthAdjust="spacingAndGlyphs" fill="#fff" stroke="#aa82c6" stroke-width="0.25" opacity="0.999">Enroll student</text>
<text x="692.02" y="325.40" font-size="20.2" textLength="48.02" lengthAdjust="spacingAndGlyphs" fill="#fff" stroke="#aa82c6" stroke-width="0.25" opacity="0.999">login</text>
<text x="655.51" y="393.00" font-size="20.2" textLength="119.94" lengthAdjust="spacingAndGlyphs" fill="#fff" stroke="#aa82c6" stroke-width="0.25" opacity="0.999">Enter course</text>
<text x="684.34" y="415.80" font-size="20.2" textLength="62.33" lengthAdjust="spacingAndGlyphs" fill="#fff" stroke="#aa82c6" stroke-width="0.25" opacity="0.999">details</text>
<text x="669.21" y="472.20" font-size="20.2" textLength="91.97" lengthAdjust="spacingAndGlyphs" fill="#fff" stroke="#aa82c6" stroke-width="0.25" opacity="0.999">Maintene</text>
<text x="682.88" y="495.00" font-size="20.2" textLength="65.30" lengthAdjust="spacingAndGlyphs" fill="#fff" stroke="#aa82c6" stroke-width="0.25" opacity="0.999">system</text>
<text x="910.52" y="332.80" font-size="20.2" textLength="48.02" lengthAdjust="spacingAndGlyphs" fill="#fff" stroke="#aa82c6" stroke-width="0.25" opacity="0.999">login</text>
<text x="874.81" y="387.50" font-size="20.2" textLength="119.83" lengthAdjust="spacingAndGlyphs" fill="#fff" stroke="#aa82c6" stroke-width="0.25" opacity="0.999">Enter course</text>
<text x="895.85" y="410.20" font-size="20.2" textLength="76.78" lengthAdjust="spacingAndGlyphs" fill="#fff" stroke="#aa82c6" stroke-width="0.25" opacity="0.999">content</text>
<text x="886.06" y="487.50" font-size="20.2" textLength="98.65" lengthAdjust="spacingAndGlyphs" fill="#fff" stroke="#aa82c6" stroke-width="0.25" opacity="0.999">Set exams</text>
<text x="899.67" y="569.80" font-size="20.2" textLength="73.82" lengthAdjust="spacingAndGlyphs" fill="#fff" stroke="#aa82c6" stroke-width="0.25" opacity="0.999">Correct</text>
<text x="882.14" y="592.00" font-size="20.2" textLength="109.05" lengthAdjust="spacingAndGlyphs" fill="#fff" stroke="#aa82c6" stroke-width="0.25" opacity="0.999">assignment</text>
<text x="123.34" y="39.25" font-size="42.4" textLength="28.00" lengthAdjust="spacingAndGlyphs" fill="#2e2835" stroke="url(#bg)" stroke-width="0.7">A</text>
<text x="152.29" y="39.25" font-size="42.4" textLength="25.12" lengthAdjust="spacingAndGlyphs" fill="#2e2835" stroke="url(#bg)" stroke-width="0.7">c</text>
<text x="180.01" y="39.25" font-size="42.4" textLength="11.77" lengthAdjust="spacingAndGlyphs" fill="#2e2835" stroke="url(#bg)" stroke-width="0.7">t</text>
<text x="191.41" y="39.25" font-size="42.4" textLength="9.38" lengthAdjust="spacingAndGlyphs" fill="#2e2835" stroke="url(#bg)" stroke-width="0.7">i</text>
<text x="200.94" y="39.25" font-size="42.4" textLength="20.61" lengthAdjust="spacingAndGlyphs" fill="#2e2835" stroke="url(#bg)" stroke-width="0.7">v</text>
<text x="219.08" y="39.25" font-size="42.4" textLength="11.85" lengthAdjust="spacingAndGlyphs" fill="#2e2835" stroke="url(#bg)" stroke-width="0.7">i</text>
<text x="230.56" y="39.25" font-size="42.4" textLength="12.75" lengthAdjust="spacingAndGlyphs" fill="#2e2835" stroke="url(#bg)" stroke-width="0.7">t</text>
<text x="241.08" y="39.25" font-size="42.4" textLength="11.85" lengthAdjust="spacingAndGlyphs" fill="#2e2835" stroke="url(#bg)" stroke-width="0.7">i</text>
<text x="250.15" y="39.25" font-size="42.4" textLength="27.15" lengthAdjust="spacingAndGlyphs" fill="#2e2835" stroke="url(#bg)" stroke-width="0.7">e</text>
<text x="277.15" y="39.25" font-size="42.4" textLength="15.06" lengthAdjust="spacingAndGlyphs" fill="#2e2835" stroke="url(#bg)" stroke-width="0.7">s</text>
<text x="290.43" y="39.25" font-size="42.4" textLength="15.50" lengthAdjust="spacingAndGlyphs" fill="#2e2835" stroke="url(#bg)" stroke-width="0.7">:</text>
</svg>
</body></html>
